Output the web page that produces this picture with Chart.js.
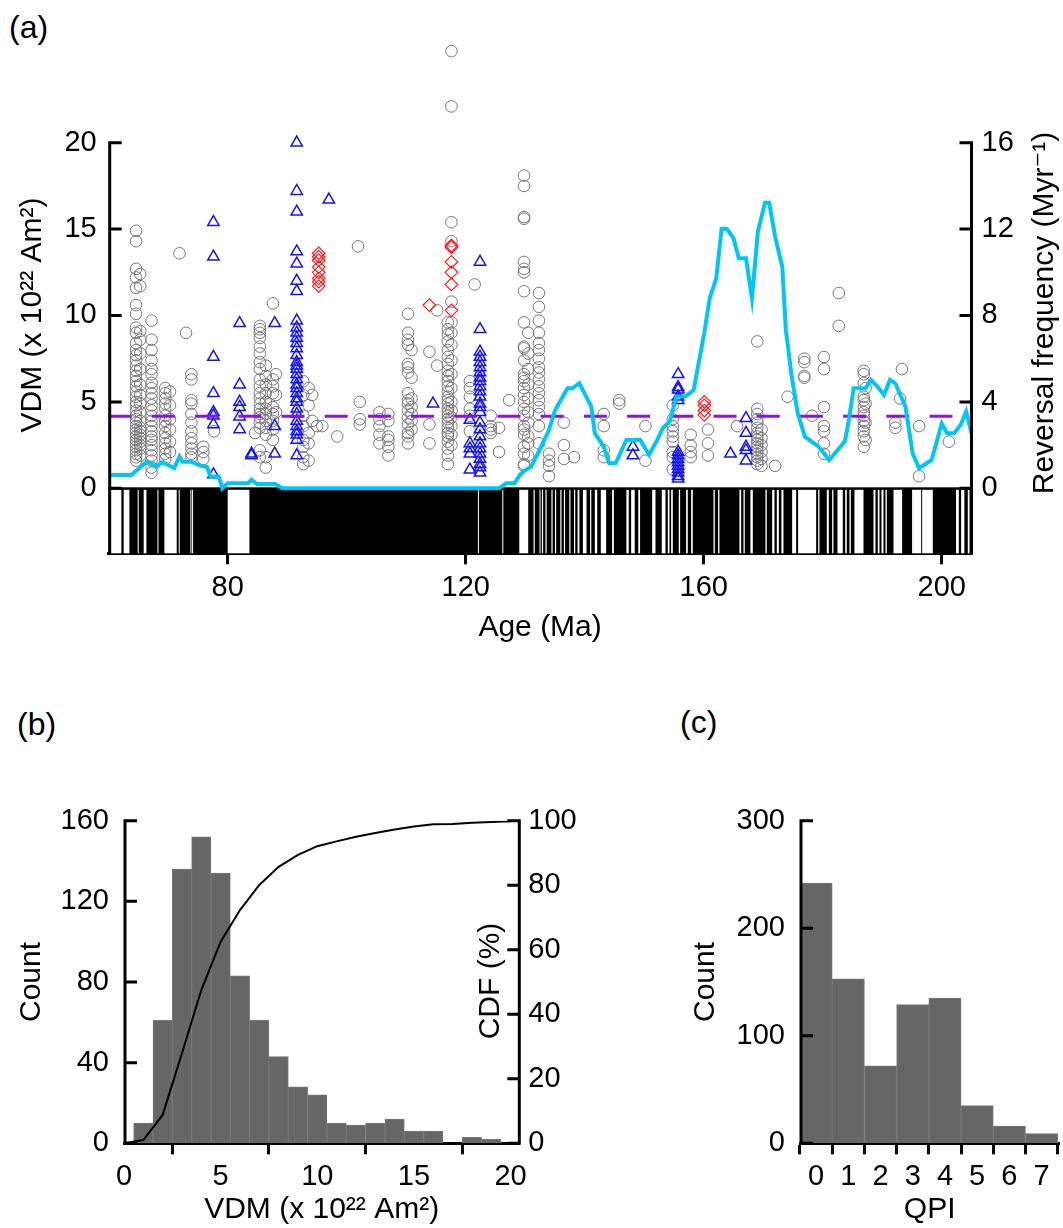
<!DOCTYPE html>
<html>
<head>
<meta charset="utf-8">
<script src="https://cdn.jsdelivr.net/npm/chart.js@4.4.1/dist/chart.umd.min.js"></script>
<style>
  body { margin: 0; background: #fff; width: 1063px; height: 1228px; position: relative; overflow: hidden; font-family: 'Liberation Sans', Arial, sans-serif; }
  canvas { position: absolute; }
  .tag { position: absolute; font-size: 32px; line-height: 32px; color: #000; }
</style>
</head>
<body>
<div class="tag" style="left:9px;top:11px">(a)</div>
<div class="tag" style="left:17px;top:708px">(b)</div>
<div class="tag" style="left:680px;top:706px">(c)</div>
<canvas id="ca" width="1063" height="670" style="left:0;top:0"></canvas>
<canvas id="cb" width="600" height="538" style="left:0;top:690px"></canvas>
<canvas id="cc" width="423" height="538" style="left:640px;top:690px"></canvas>
<script>
// ---- panel (a) data: VDM vs age ----
const ageTicks = [80, 120, 160, 200];
const vdmTicks = [0, 5, 10, 15, 20];
const freqTicks = [0, 4, 8, 12, 16];
const meanVDM = 4.17;

// [age (Ma), [VDM values ...]]
const circleGroups = [
  [64.6, [14.9,14.3,12.7,12.2,11.6,10.6,10.1,9.3,9.0,8.4,8.0,7.7,7.4,7.1,6.8,6.5,6.2,5.9,5.6,5.3,5.0,4.8,4.5,4.2,4.0,3.8,3.6,3.4,3.2,3.0,2.8,2.6,2.4,2.2,2.0,1.8,1.6]],
  [65.3, [12.4,11.7,9.1,8.6,7.8,6.9,6.0,5.4,4.9,4.4,3.9,3.5,3.3,3.1,2.9,2.7,2.5,2.3,1.9]],
  [67.2, [9.7,8.6,8.0,7.4,6.9,6.6,6.1,5.8,5.5,5.2,4.8,4.5,4.2,3.9,3.6,3.3,3.0,2.8,2.5,2.2,1.9,1.6,1.2,0.9]],
  [69.5, [5.8,5.5,5.2,4.9,4.6,4.2,3.9,3.6,3.2,2.9,2.6,2.3,2.0,1.7]],
  [70.3, [5.6,4.8,4.0,3.4,2.7,2.1]],
  [71.9, [13.6]],
  [73.0, [9.0]],
  [73.9, [6.6,6.3,5.1,4.9,4.3,3.8,3.3,2.9,2.6,2.3,2.0,1.8]],
  [75.9, [2.4,2.1,1.7]],
  [77.7, [3.3]],
  [84.6, [3.2]],
  [85.4, [9.4,9.2,9.0,8.7,8.2,7.8,7.3,6.9,6.3,5.9,5.5,5.2,4.9,4.6,4.3,4.1,3.8,3.5,2.2,1.8]],
  [86.4, [7.1,6.5,6.0,5.5,5.0,4.6,4.3,3.9,3.5,3.1,1.8,1.2]],
  [87.6, [10.7,6.3,5.9,5.5,4.7,4.3,3.9,3.4,2.8]],
  [88.1, [6.6,5.4,4.4]],
  [92.7, [6.2,5.4,4.2,3.6,2.8,2.4,1.8,1.4]],
  [93.6, [5.8,4.8,3.2,2.6,1.6]],
  [94.2, [5.4,3.9]],
  [95.0, [3.6]],
  [95.9, [3.6]],
  [98.4, [3.0]],
  [101.9, [14.0]],
  [102.2, [5.0,4.0,3.7]],
  [105.5, [4.4,4.0,3.6,3.1,2.6]],
  [107.0, [4.3,3.9,3.0,2.8,2.4,1.9]],
  [110.3, [10.1,9.0,8.6,8.3,7.2,7.0,6.7,5.5,5.1,4.9,4.5,4.1,3.7,3.2,3.0,2.6]],
  [110.9, [8.0,6.4,5.2,4.7,4.3,3.9,3.4]],
  [113.9, [7.9,3.7,2.6]],
  [115.2, [10.3,7.1]],
  [117.0, [9.6,9.2,8.9,8.5,8.0,7.6,7.2,6.8,6.5,6.2,5.9,5.6,5.3,5.1,4.9,4.6,4.4,4.2,4.0,3.8,3.5,3.2,3.0,2.7,2.3,1.9,1.4]],
  [117.6, [25.3,22.1,15.4,14.3,10.8,9.6,9.0,8.3,7.4,6.6,5.8,5.0,4.5,4.1,3.6,3.1,2.5]],
  [120.7, [6.2,5.8,5.3,4.6,4.2,3.3]],
  [121.5, [11.8]],
  [124.2, [4.2,3.6,3.4,3.2]],
  [125.6, [3.5,2.1]],
  [127.3, [5.1]],
  [129.8, [18.1,17.5,15.7,15.6,13.1,12.7,12.5,11.4,9.6,8.2,8.1,7.4,6.6,6.4,6.2,5.8,5.4,5.0,4.6,4.2,3.6,3.4,3.1,2.4,2.0,1.4,1.3]],
  [130.5, [9.0,7.8,6.9,6.0,5.2,4.4,3.8,3.0,2.6,1.9]],
  [132.3, [11.3,10.5,9.7,9.0,8.4,8.0,7.5,7.0,6.7,6.3,5.9,5.5,5.1,4.7,4.3,3.6,2.6]],
  [134.0, [2.0,1.6,1.3,0.7]],
  [136.5, [3.8,2.5,1.7]],
  [138.2, [1.8]],
  [143.2, [4.3,3.6,2.2,1.8]],
  [145.8, [5.1,4.9]],
  [150.2, [3.6,1.6]],
  [154.8, [4.8,4.0,3.6,3.3,3.0,2.7,2.1,1.8,1.1]],
  [157.8, [3.1,2.5,2.1,1.8]],
  [160.7, [3.4,2.6,1.9]],
  [165.6, [3.6]],
  [169.0, [8.5,4.6,4.3,4.0,3.8,3.5,3.2,3.0,2.8,2.6,2.4,2.2,2.0,1.8,1.6,1.4]],
  [169.7, [3.4,2.9,2.5,2.1,1.7,1.3]],
  [172.0, [1.3]],
  [174.1, [5.3]],
  [176.9, [7.5,7.3,6.5,6.4]],
  [178.2, [4.2]],
  [180.2, [7.6,6.9,4.7,3.6,3.3,2.6,2.0]],
  [182.7, [11.3,9.4]],
  [186.9, [6.8,6.6,6.1,5.3,5.1,4.7,4.4,4.2,3.9,3.6,3.3,3.0,2.4]],
  [187.2, [5.8,4.9,3.8,2.8]],
  [192.2, [3.8,3.5]],
  [193.0, [5.2]],
  [193.3, [6.9]],
  [196.2, [3.6,0.7]],
  [201.2, [2.7]]
];

const triangleGroups = [
  [77.6, [15.4,13.4,7.6,5.5,4.4,4.2,3.7,0.8]],
  [82.0, [9.55,6.0,5.0,4.7,4.15,3.4]],
  [84.0, [2.0,1.9]],
  [87.9, [9.55,3.6,2.0]],
  [91.6, [20.0,17.2,16.0,13.7,13.0,12.0,11.4,9.7,9.3,9.0,8.7,8.4,8.1,7.7,7.3,7.1,6.9,6.6,6.3,6.0,5.8,5.5,5.2,5.0,4.6,4.3,3.9,3.6,3.3,3.1,2.8,1.9]],
  [97.0, [16.7]],
  [114.5, [4.9]],
  [120.7, [3.95,2.6,2.3,2.0,1.07]],
  [122.4, [13.1,9.2,7.9,7.6,7.3,7.0,6.7,6.4,6.2,5.9,5.6,5.3,4.9,4.7,4.4,3.8,3.4,3.0,2.6,2.3,2.0,1.7,1.4,1.2,0.9]],
  [148.1, [2.4,1.9]],
  [155.7, [6.6,5.85,5.7,5.3,5.1,2.1,1.9,1.7,1.5,1.3,1.1,0.9,0.7,0.55]],
  [164.5, [2.0]],
  [167.1, [4.05,3.2,2.4,2.2,1.6]]
];

const diamondGroups = [
  [95.3, [13.6,13.4,13.2,12.8,12.5,12.15,11.96,11.7]],
  [113.9, [10.6]],
  [117.6, [14.05,13.95,13.1,12.5,11.8,10.3]],
  [160.1, [5.0,4.8,4.5,4.25]]
];

// reversal frequency (Myr^-1)
const revAge = [60.0,63.8,66.4,68.1,69.0,71.0,71.9,72.4,73.9,75.3,76.5,77.1,78.5,79.1,80.0,83.4,84.0,84.9,88.0,89.2,125.6,126.8,128.2,129.1,129.9,131.0,132.1,133.9,135.0,137.1,137.9,139.1,141.1,141.7,143.2,144.1,145.2,147.0,149.3,150.8,152.2,153.1,154.3,155.4,156.9,158.3,160.1,161.0,162.1,163.0,163.9,165.0,165.9,167.1,168.1,169.1,170.3,171.0,172.0,173.2,173.8,174.1,174.7,175.8,177.0,179.3,181.1,182.5,183.7,184.3,185.2,187.2,188.1,189.2,190.3,191.3,192.2,193.9,195.1,196.2,198.3,200.0,200.9,202.1,203.2,204.1,205.0];
const revFreq = [0.62,0.62,1.23,1.0,1.23,0.93,1.47,1.23,1.23,1.05,1.0,0.55,0.55,0.0,0.23,0.23,0.4,0.2,0.2,0.0,0.0,0.23,0.23,0.62,0.82,1.0,1.6,2.63,3.6,4.63,4.63,4.86,3.78,2.55,1.93,1.16,1.16,2.24,2.25,1.55,2.24,2.78,3.09,4.25,4.25,4.55,7.2,8.8,9.72,12.0,12.0,11.58,10.65,10.65,8.8,11.88,13.22,13.22,11.65,10.26,7.33,6.71,5.33,3.47,2.39,1.93,1.31,1.77,2.16,3.0,4.63,4.63,5.02,4.71,4.32,5.02,4.86,3.78,1.63,0.93,1.31,3.0,2.55,2.55,2.94,3.55,2.55];

// reversed-polarity chrons (white in the bar), Ma
const reversedChrons = [
  [60.29,62.13],[62.52,63.48],[64.87,65.04],[65.88,66.34],[68.19,68.35],[69.36,71.43],[71.76,71.93],[73.73,73.85],[74.01,74.18],[80.0,83.65],
  [122.05,122.2],[126.15,126.3],[129.0,130.5],[131.4,131.6],[132.4,132.5],[132.8,133.0],[133.4,133.6],[134.4,134.6],[135.0,135.2],[135.9,136.1],
  [136.5,136.7],[137.4,137.6],[138.2,138.4],[138.8,139.1],[139.7,140.3],[140.9,141.1],[141.7,142.1],[142.7,143.6],[144.6,144.9],[147.0,147.4],
  [147.8,148.4],[149.0,149.3],[151.33,151.89],[152.95,153.57],[153.96,154.24],[154.52,154.8],[155.81,156.03],[157.04,157.32],[157.88,158.16],
  [161.64,161.86],[162.42,162.64],[166.0,166.29],[166.68,166.9],[167.85,168.25],[170.37,170.6],[171.5,171.89],[172.28,172.62],[173.06,173.4],
  [174.86,175.53],[175.86,178.89],[179.23,179.45],[180.68,181.02],[181.58,181.8],[182.48,183.37],[183.77,184.04],[184.49,184.72],[185.33,186.85],
  [188.53,188.86],[189.25,189.53],[189.87,190.21],[190.54,190.77],[191.89,193.34],[195.02,196.54],[196.71,198.5],[202.4,202.87],[203.26,203.8],[204.38,204.66]
];

// ---- panel (b): VDM histogram + CDF ----
const vdmBins = [1,2,3,4,5,6,7,8,9,10,11,12,13,14,15,16,17,18,19];
const vdmCounts = [10,61,136,152,134,83,61,43,28,24,10,9,10,12,6,6,0,3,2];
const cdfX = [0,1,2,3,4,5,6,7,8,9,10,11,12,13,14,15,16,17,18,19,20];
const cdfY = [0,1.0,8.8,27.9,47.5,62.5,72.3,80.1,85.7,89.4,92.1,93.6,95.0,96.2,97.3,98.2,98.9,99.0,99.4,99.6,99.8];
const histXTicks = [0, 5, 10, 15, 20];
const countTicksB = [0, 40, 80, 120, 160];
const cdfTicks = [0, 20, 40, 60, 80, 100];

// ---- panel (c): QPI histogram ----
const qpiBins = [0,1,2,3,4,5,6,7];
const qpiCounts = [242,153,72,129,135,35,16,9];
const countTicksC = [0, 100, 200, 300];

Chart.defaults.font.family = "'Liberation Sans', Arial, Helvetica, sans-serif";
Chart.defaults.font.size = 29;
Chart.defaults.color = '#000';

const FONT = "30px 'Liberation Sans', Arial, 'DejaVu Sans', sans-serif";
const TITLE_FONT = {size: 30};

function flat(groups) {
  const pts = [];
  groups.forEach(([age, vals]) => vals.forEach(v => pts.push({x: age, y: v})));
  return pts;
}
const setTicks = vals => scale => { scale.ticks = vals.map(v => ({value: v})); };

// axis lines with ticks pointing into the plot
const inwardAxes = {
  id: 'inwardAxes',
  afterDraw(chart, args, opts) {
    const {ctx, chartArea} = chart;
    ctx.save();
    ctx.strokeStyle = '#000';
    ctx.lineWidth = 3;
    (opts.ids || []).forEach(id => {
      const s = chart.scales[id];
      const vals = s.ticks.map(t => t.value);
      const top = s.getPixelForValue(Math.max(...vals));
      const left = s.position === 'left';
      const x = left ? chartArea.left + 1 : chartArea.right;
      const dir = left ? 1 : -1;
      ctx.beginPath();
      ctx.moveTo(x, top - 1.5);
      ctx.lineTo(x, chartArea.bottom + 1.5);
      vals.forEach(v => {
        const y = s.getPixelForValue(v);
        ctx.moveTo(x, y);
        ctx.lineTo(x + dir * 12, y);
      });
      ctx.stroke();
    });
    ctx.restore();
  }
};

// rotated titles reading upwards
const sideText = {
  id: 'sideText',
  afterDraw(chart, args, opts) {
    const ctx = chart.ctx;
    (opts.items || []).forEach(it => {
      ctx.save();
      ctx.translate(it.x, it.y);
      ctx.rotate(-Math.PI / 2);
      ctx.font = FONT;
      ctx.fillStyle = '#000';
      ctx.textAlign = 'center';
      ctx.textBaseline = 'middle';
      ctx.fillText(it.text, 0, 0);
      ctx.restore();
    });
  }
};

// magnetic polarity bar below VDM = 0
const polarityBar = {
  id: 'polarityBar',
  beforeDatasetsDraw(chart) {
    const {ctx, chartArea, scales} = chart;
    const x = scales.x, y = scales.y;
    const top = y.getPixelForValue(0);
    const bottom = chartArea.bottom;
    ctx.save();
    ctx.fillStyle = '#000';
    ctx.fillRect(chartArea.left, top - 1, chartArea.right - chartArea.left, bottom - top + 1);
    ctx.fillStyle = '#fff';
    reversedChrons.forEach(([a, b]) => {
      const x0 = x.getPixelForValue(a), x1 = x.getPixelForValue(b);
      ctx.fillRect(x0, top + 1.5, Math.max(x1 - x0, 1), bottom - top - 1.5);
    });
    ctx.restore();
  }
};

const xGrid = {display: true, drawOnChartArea: false, drawTicks: true, tickLength: 11, tickWidth: 3, tickColor: '#000'};
const xBorder = {display: true, width: 3, color: '#000'};
const yOff = {display: false, drawTicks: false};

// ---------- (a) ----------
new Chart(document.getElementById('ca'), {
  type: 'scatter',
  data: {
    datasets: [
      {label: 'Reversal frequency', data: revAge.map((a, i) => ({x: a, y: revFreq[i]})), yAxisID: 'y2',
       showLine: true, borderColor: '#00c6f6', borderWidth: 4, pointRadius: 0, tension: 0, order: 0},
      {label: 'Mean VDM', data: [{x: 60, y: meanVDM}, {x: 205, y: meanVDM}], showLine: true,
       borderColor: '#8c12ea', borderWidth: 3, borderDash: [23, 20.2], pointRadius: 0, order: 1},
      {label: 'Diamonds', data: flat(diamondGroups), pointStyle: 'rectRot', pointRadius: 6.3,
       borderColor: '#ff1a1a', borderWidth: 1.2, backgroundColor: 'rgba(0,0,0,0)', order: 2},
      {label: 'Triangles', data: flat(triangleGroups), pointStyle: 'triangle', pointRadius: 6.6,
       borderColor: '#1515f2', borderWidth: 1.5, backgroundColor: 'rgba(0,0,0,0)', order: 3},
      {label: 'Circles', data: flat(circleGroups), pointStyle: 'circle', pointRadius: 5.8,
       borderColor: '#787878', borderWidth: 1, backgroundColor: 'rgba(0,0,0,0)', order: 4}
    ]
  },
  options: {
    responsive: false, animation: false, events: [],
    layout: {padding: {top: 30, left: 0, right: 0, bottom: 0}, autoPadding: false},
    plugins: {
      legend: {display: false}, tooltip: {enabled: false},
      inwardAxes: {ids: ['y', 'y2']},
      sideText: {items: [
        {text: 'VDM (x 10²² Am²)', x: 33, y: 315},
        {text: 'Reversal frequency (Myr⁻¹)', x: 1045, y: 313}
      ]}
    },
    scales: {
      x: {type: 'linear', min: 60, max: 205, afterBuildTicks: setTicks(ageTicks),
          grid: xGrid, border: xBorder, ticks: {padding: 6, maxRotation: 0, autoSkip: false},
          title: {display: true, text: 'Age (Ma)', font: TITLE_FONT, padding: {top: 0, bottom: 24}},
          afterFit: s => { s.height = 116.7; }},
      y: {position: 'left', min: -3.7616, max: 26.522, afterBuildTicks: setTicks(vdmTicks),
          grid: yOff, border: {display: false}, ticks: {padding: 12},
          afterFit: s => { s.width = 108.7; }},
      y2: {position: 'right', min: -3.0093, max: 21.2176, afterBuildTicks: setTicks(freqTicks),
           grid: yOff, border: {display: false}, ticks: {padding: 10},
           afterFit: s => { s.width = 91.5; }}
    }
  },
  plugins: [polarityBar, inwardAxes, sideText]
});

// ---------- (b) ----------
new Chart(document.getElementById('cb'), {
  type: 'bar',
  data: {
    datasets: [
      {type: 'line', label: 'CDF', data: cdfX.map((v, i) => ({x: v, y: cdfY[i]})), yAxisID: 'y2',
       borderColor: '#000', borderWidth: 2, pointRadius: 0, tension: 0, order: 0},
      {label: 'Count', data: vdmBins.map((v, i) => ({x: v, y: vdmCounts[i]})), yAxisID: 'y',
       backgroundColor: '#666666', borderColor: '#787878', borderWidth: 1,
       barPercentage: 1, categoryPercentage: 1, order: 1}
    ]
  },
  options: {
    responsive: false, animation: false, events: [],
    layout: {padding: {top: 130.7, left: 0, right: 0, bottom: 0}, autoPadding: false},
    plugins: {
      legend: {display: false}, tooltip: {enabled: false},
      inwardAxes: {ids: ['y', 'y2']},
      sideText: {items: [{text: 'CDF (%)', x: 491, y: 291}]}
    },
    scales: {
      x: {type: 'linear', min: 0, max: 20.45, offset: false, afterBuildTicks: setTicks(histXTicks),
          grid: xGrid, border: xBorder, ticks: {padding: 5, maxRotation: 0, autoSkip: false},
          title: {display: true, text: 'VDM (x 10²² Am²)', font: TITLE_FONT, padding: {top: 0, bottom: 0}},
          afterFit: s => { s.height = 84.7; }},
      y: {position: 'left', min: 0, max: 160, afterBuildTicks: setTicks(countTicksB),
          grid: yOff, border: {display: false}, ticks: {padding: 15},
          title: {display: true, text: 'Count', font: TITLE_FONT, padding: {top: 14, bottom: 0}},
          afterFit: s => { s.width = 124; }},
      y2: {position: 'right', min: 0, max: 100, afterBuildTicks: setTicks(cdfTicks),
           grid: yOff, border: {display: false}, ticks: {padding: 9},
           afterFit: s => { s.width = 80.7; }}
    }
  },
  plugins: [inwardAxes, sideText]
});

// ---------- (c) ----------
new Chart(document.getElementById('cc'), {
  type: 'bar',
  data: {
    datasets: [
      {label: 'Count', data: qpiBins.map((v, i) => ({x: v, y: qpiCounts[i]})),
       backgroundColor: '#666666', borderColor: '#787878', borderWidth: 1,
       barPercentage: 1, categoryPercentage: 1}
    ]
  },
  options: {
    responsive: false, animation: false, events: [],
    layout: {padding: {top: 130.7, left: 0, right: 3.7, bottom: 0}, autoPadding: false},
    plugins: {
      legend: {display: false}, tooltip: {enabled: false},
      inwardAxes: {ids: ['y']}
    },
    scales: {
      x: {type: 'linear', min: -0.5, max: 7.55, offset: false, afterBuildTicks: setTicks(qpiBins),
          grid: xGrid, border: xBorder, ticks: {padding: 5, maxRotation: 0, autoSkip: false},
          title: {display: true, text: 'QPI', font: TITLE_FONT, padding: {top: 0, bottom: 0}},
          afterFit: s => { s.height = 84.7; }},
      y: {position: 'left', min: 0, max: 300, afterBuildTicks: setTicks(countTicksC),
          grid: yOff, border: {display: false}, ticks: {padding: 15},
          title: {display: true, text: 'Count', font: TITLE_FONT, padding: {top: 48, bottom: 0}},
          afterFit: s => { s.width = 160; }}
    }
  },
  plugins: [inwardAxes]
});
</script>
</body>
</html>
